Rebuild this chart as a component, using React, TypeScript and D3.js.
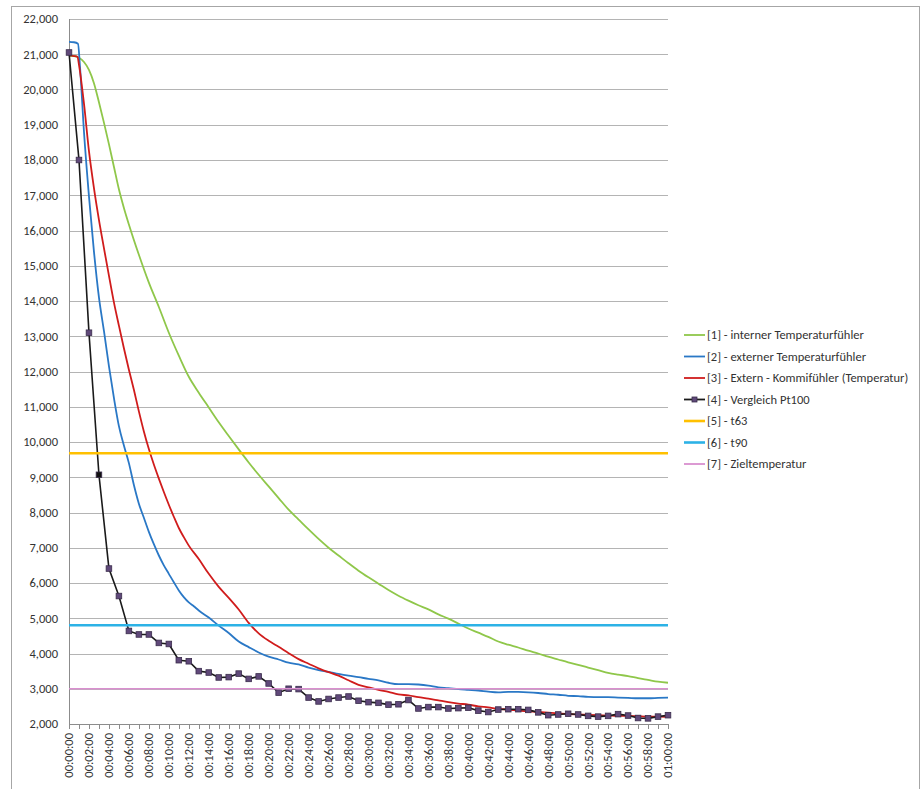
import React from 'react';
import * as d3 from 'd3';

// time in minutes, value
const internSeries: [number, number][] = [
  [0, 20950], [0.5, 20950], [1, 20900], [1.5, 20780], [2, 20560], [2.5, 20180], [3, 19640],
  [3.5, 19060], [4, 18450], [4.5, 17810], [5, 17170], [5.5, 16640], [6, 16170], [7, 15310],
  [8, 14520], [9, 13830], [10, 13100], [11, 12450], [12, 11850], [13, 11400], [14, 10980],
  [15, 10560], [16, 10170], [17, 9790], [18, 9420], [19, 9070], [20, 8740], [21, 8410],
  [22, 8080], [23, 7800], [24, 7520], [25, 7250], [26, 7000], [27, 6780], [28, 6560],
  [29, 6350], [30, 6160], [31, 5980], [32, 5800], [33, 5640], [34, 5500], [35, 5370],
  [36, 5250], [37, 5110], [38, 4990], [39, 4850], [40, 4710], [41, 4590], [42, 4470],
  [43, 4340], [44, 4250], [45, 4170], [46, 4080], [47, 4000], [48, 3910], [49, 3830],
  [50, 3750], [51, 3680], [52, 3600], [53, 3530], [54, 3450], [55, 3400], [56, 3360],
  [57, 3300], [58, 3250], [59, 3200], [60, 3170],
];

const externSeries: [number, number][] = [
  [0, 21350], [0.5, 21340], [0.9, 21300], [1.1, 20650], [1.5, 18800], [2, 16970], [2.5, 15400],
  [3, 14100], [3.5, 13150], [4, 12150], [4.5, 11250], [5, 10450], [5.5, 9900], [6, 9400],
  [6.5, 8780], [7, 8250], [7.5, 7850], [8, 7450], [8.5, 7100], [9, 6780], [9.5, 6500],
  [10, 6260], [10.5, 6020], [11, 5790], [11.5, 5600], [12, 5450], [12.5, 5340], [13, 5220],
  [14, 5020], [15, 4790], [16, 4580], [17, 4340], [18, 4180], [19, 4030], [20, 3910], [21, 3830],
  [22, 3740], [23, 3690], [24, 3600], [25, 3530], [26, 3480], [27, 3420], [28, 3370],
  [29, 3330], [30, 3280], [31, 3240], [32, 3170], [33, 3130], [34, 3130], [35, 3120],
  [36, 3090], [37, 3040], [38, 3020], [39, 2990], [40, 2970], [41, 2950], [42, 2920],
  [43, 2900], [44, 2910], [45, 2910], [46, 2900], [47, 2880], [48, 2850], [49, 2830],
  [50, 2800], [51, 2790], [52, 2770], [53, 2760], [54, 2760], [55, 2750], [56, 2740],
  [57, 2730], [58, 2730], [59, 2740], [60, 2750],
];

const kommiSeries: [number, number][] = [
  [0, 20970], [0.5, 20950], [0.85, 20930], [1, 20700], [1.5, 19600], [2, 18250], [2.5, 17200],
  [3, 16300], [3.5, 15500], [4, 14720], [4.5, 13960], [5, 13300], [5.5, 12660], [6, 12050],
  [6.5, 11480], [7, 10870], [7.5, 10300], [8, 9800], [8.5, 9360], [9, 8960], [9.5, 8580],
  [10, 8220], [10.5, 7880], [11, 7560], [11.5, 7300], [12, 7060], [13, 6680], [14, 6260],
  [15, 5890], [16, 5580], [17, 5250], [18, 4870], [19, 4570], [20, 4360], [21, 4190],
  [22, 4010], [23, 3840], [24, 3710], [25, 3580], [26, 3470], [27, 3370], [28, 3240],
  [29, 3110], [30, 3040], [31, 2970], [32, 2910], [33, 2840], [34, 2810], [35, 2760],
  [36, 2720], [37, 2670], [38, 2620], [39, 2580], [40, 2550], [41, 2500], [42, 2470],
  [43, 2430], [44, 2410], [45, 2380], [46, 2360], [47, 2340], [48, 2320], [49, 2300],
  [50, 2280], [51, 2270], [52, 2260], [53, 2250], [54, 2240], [55, 2230], [56, 2230],
  [57, 2220], [58, 2210], [59, 2210], [60, 2200],
];

// Vergleich Pt100, one reading per minute
const pt100Values = [
  21050, 18000, 13100, 9070, 6410, 5630, 4640, 4540, 4540, 4300,
  4270, 3810, 3780, 3500, 3460, 3320, 3330, 3430, 3280, 3350,
  3150, 2890, 3000, 2990, 2750, 2640, 2710, 2750, 2780, 2660,
  2620, 2600, 2550, 2560, 2680, 2440, 2480, 2480, 2440, 2450,
  2460, 2380, 2340, 2410, 2420, 2420, 2400, 2330, 2250, 2270,
  2290, 2270, 2230, 2210, 2230, 2280, 2240, 2170, 2160, 2210,
  2250,
];

const t63 = 9680;
const t90 = 4800;
const zielTemp = 3000;

const yTicks = [2000, 3000, 4000, 5000, 6000, 7000, 8000, 9000, 10000, 11000, 12000,
  13000, 14000, 15000, 16000, 17000, 18000, 19000, 20000, 21000, 22000];

const xTickLabels = [
  '00:00:00', '00:02:00', '00:04:00', '00:06:00', '00:08:00', '00:10:00', '00:12:00',
  '00:14:00', '00:16:00', '00:18:00', '00:20:00', '00:22:00', '00:24:00', '00:26:00',
  '00:28:00', '00:30:00', '00:32:00', '00:34:00', '00:36:00', '00:38:00', '00:40:00',
  '00:42:00', '00:44:00', '00:46:00', '00:48:00', '00:50:00', '00:52:00', '00:54:00',
  '00:56:00', '00:58:00', '01:00:00',
];

const legendNames = [
  '[1] - interner Temperaturfühler',
  '[2] - externer Temperaturfühler',
  '[3] - Extern - Kommifühler (Temperatur)',
  '[4] - Vergleich Pt100',
  '[5] - t63',
  '[6] - t90',
  '[7] - Zieltemperatur',
];
const legendColors = ['#8fc74a', '#2a78c6', '#d01c1c', '#1a1a1a', '#ffc000', '#2cb2e6', '#d98fcf'];

const font = "Carlito, 'Liberation Sans', Arial, sans-serif";
const textColor = '#333333';
const fontSize = 12.5;

export default function App() {
  const width = 923;
  const height = 789;
  const x = d3.scaleLinear().domain([0, 60]).range([69, 668]);
  const y = d3.scaleLinear().domain([2000, 22000]).range([724, 19]);

  const smooth = d3.line<[number, number]>()
    .x((d) => x(d[0]))
    .y((d) => y(d[1]))
    .curve(d3.curveMonotoneX);
  const straight = d3.line<number>()
    .x((_, i) => x(i))
    .y((d) => y(d));

  const minutes = d3.range(0, 61);

  return (
    <svg width={width} height={height} style={{ position: 'absolute', left: 0, top: 0, background: '#fff' }}>
      <rect x={11.5} y={6.5} width={908} height={800} fill="#fff" stroke="#a6a6a6" strokeWidth={1} />

      {/* gridlines */}
      {yTicks.map((t) => (
        <line key={t} x1={x(0)} x2={x(60)} y1={Math.round(y(t)) + 0.5} y2={Math.round(y(t)) + 0.5}
          stroke="#b4b4b4" strokeWidth={1.2} />
      ))}
      {yTicks.map((t) => (
        <text key={'l' + t} x={58} y={y(t)} dy="0.35em" textAnchor="end" fontFamily={font}
          fontSize={fontSize} fill={textColor}>{d3.format(',')(t)}</text>
      ))}

      {/* axes */}
      <line x1={x(0) + 0.5} x2={x(0) + 0.5} y1={y(22000)} y2={y(2000)} stroke="#8c8c8c" />
      <line x1={x(0)} x2={x(60)} y1={Math.round(y(2000)) + 0.5} y2={Math.round(y(2000)) + 0.5} stroke="#8c8c8c" />
      {minutes.map((m) => (
        <line key={'t' + m} x1={Math.round(x(m)) + 0.5} x2={Math.round(x(m)) + 0.5}
          y1={y(2000)} y2={y(2000) + 5} stroke="#8c8c8c" />
      ))}
      {xTickLabels.map((lab, i) => (
        <text key={lab} transform={`translate(${x(i * 2)},${y(2000) + 9}) rotate(-90)`}
          textAnchor="end" dy="0.35em" fontFamily={font} fontSize={fontSize} fill={textColor}>{lab}</text>
      ))}

      {/* series */}
      <path d={smooth(internSeries) || ''} fill="none" stroke={legendColors[0]} strokeWidth={1.8} />
      <path d={smooth(externSeries) || ''} fill="none" stroke={legendColors[1]} strokeWidth={1.8} />
      <path d={smooth(kommiSeries) || ''} fill="none" stroke={legendColors[2]} strokeWidth={1.8} />
      <path d={straight(pt100Values) || ''} fill="none" stroke={legendColors[3]} strokeWidth={1.6} />
      {pt100Values.map((v, i) => (
        <rect key={'m' + i} x={x(i) - 2.8} y={y(v) - 2.8} width={5.6} height={5.6}
          fill={i === 3 ? '#111' : '#60497a'} stroke="#3b2d4c" strokeWidth={0.8} />
      ))}

      <line x1={x(0)} x2={x(60)} y1={y(t63)} y2={y(t63)} stroke={legendColors[4]} strokeWidth={2.6} />
      <line x1={x(0)} x2={x(60)} y1={y(t90)} y2={y(t90)} stroke={legendColors[5]} strokeWidth={2.6} />
      <line x1={x(0)} x2={x(60)} y1={y(zielTemp)} y2={y(zielTemp)} stroke={legendColors[6]} strokeWidth={1.6} />

      {/* legend */}
      {legendNames.map((name, i) => {
        const ly = 335 + i * 21.5;
        return (
          <g key={name}>
            <line x1={684} x2={705} y1={ly} y2={ly} stroke={legendColors[i]}
              strokeWidth={i === 4 || i === 5 ? 2.6 : 1.8} />
            {i === 3 && <rect x={692} y={ly - 2.5} width={5} height={5} fill="#60497a" stroke="#3b2d4c" strokeWidth={0.8} />}
            <text x={707} y={ly} dy="0.35em" fontFamily={font} fontSize={fontSize} fill={textColor}>{name}</text>
          </g>
        );
      })}
    </svg>
  );
}
